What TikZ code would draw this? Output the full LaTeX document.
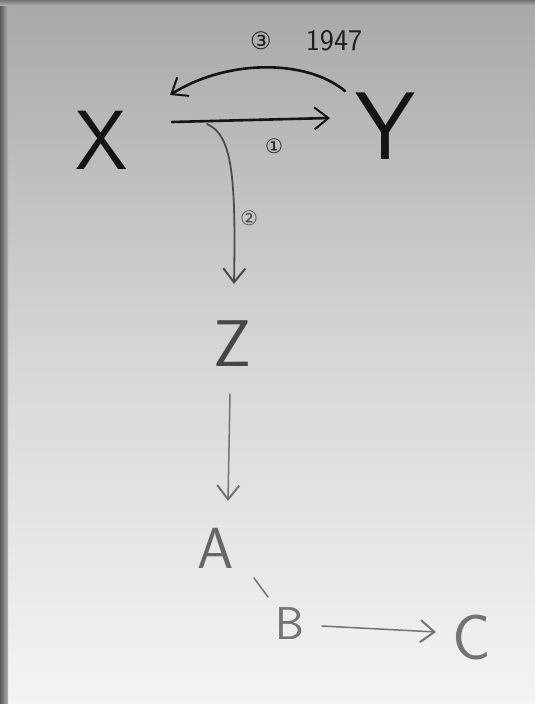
\documentclass[tikz,border=0pt]{standalone}
\usepackage{fontspec}
\newfontfamily\symfont{DejaVu Sans}
\usetikzlibrary{arrows.meta}
\begin{document}
\begin{tikzpicture}[x=1pt,y=-1pt,
  lbl/.style={inner sep=0pt,font=\sffamily},
  arr/.style={-{Straight Barb[length=14pt,width=22pt,line width=2pt]},line cap=round},
  topline/.style={line width=2.6pt,color=black!92},
  midline/.style={line width=1.8pt,color=black!70},
  lowline/.style={line width=1.5pt,color=black!55},
  circnum/.style={inner sep=0pt,font=\symfont\fontsize{24}{24}\selectfont,color=black!88}
]
\useasboundingbox (0,0) rectangle (535,704);
\shade[top color={rgb,255:red,168;green,168;blue,168},bottom color={rgb,255:red,244;green,244;blue,244},middle color={rgb,255:red,214;green,214;blue,214}] (0,0) rectangle (535,704);
\shade[left color=black!65,right color={rgb,255:red,180;green,180;blue,180}] (0,0) rectangle (8,704);
\shade[top color=black!55,bottom color={rgb,255:red,170;green,170;blue,170}] (0,0) rectangle (535,5);

% nodes
\node[lbl,text=black!92,font=\sffamily\fontsize{84}{84}\selectfont] (X) at (102,140) {X};
\node[lbl,text=black!92,font=\sffamily\fontsize{96}{96}\selectfont] (Y) at (385,126) {Y};
\node[lbl,text=black!72,font=\sffamily\fontsize{66}{66}\selectfont] (Z) at (232,344) {Z};
\node[lbl,text=black!60,font=\sffamily\fontsize{58}{58}\selectfont] (A) at (216,548) {A};
\node[lbl,text=black!55,font=\sffamily\fontsize{46}{46}\selectfont] (B) at (290,624) {B};
\node[lbl,text=black!55,font=\sffamily\fontsize{64}{64}\selectfont] (C) at (472,638) {C};

% labels
\node[circnum] (m3) at (261,41) {③};
\node[inner sep=0pt,font=\sffamily\fontsize{30}{30}\selectfont,color=black!88] (yr) at (334,41) {1947};
\node[circnum,font=\symfont\fontsize{20}{20}\selectfont] (m1) at (274,146) {①};
\node[circnum,font=\symfont\fontsize{20}{20}\selectfont,color=black!70] (m2) at (249,218) {②};

% connectors
\draw[topline,arr] ([shift={(70,-18)}]X.center) -- ([shift={(-55,-8)}]Y.center);
\draw[topline,arr] ([shift={(-40,-35)}]Y.center) .. controls (305,58) and (225,60) .. ([shift={(68,-45)}]X.center);
\draw[midline,arr] ([shift={(105,-16)}]X.center) .. controls (232,135) and (236,175) .. ([shift={(2,-60)}]Z.center);
\draw[lowline,arr] ([shift={(-2,50)}]Z.center) -- ([shift={(12,-47)}]A.center);
\draw[lowline,line cap=round] ([shift={(38,30)}]A.center) -- ([shift={(-22,-27)}]B.center);
\draw[lowline,arr] ([shift={(32,2)}]B.center) -- ([shift={(-36,-6)}]C.center);
\end{tikzpicture}
\end{document}
